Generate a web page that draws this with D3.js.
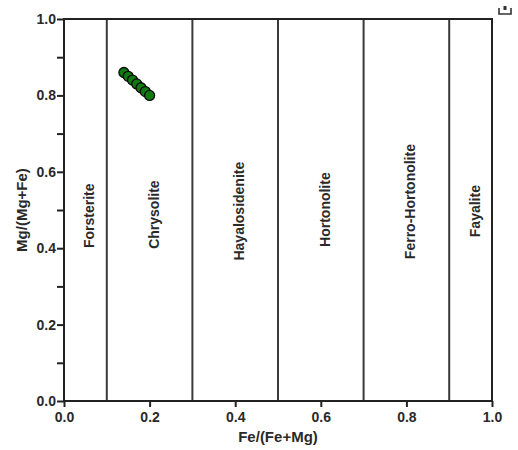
<!DOCTYPE html>
<html>
<head>
<meta charset="utf-8">
<script src="https://cdn.jsdelivr.net/npm/d3@7"></script>
<style>
  html, body { margin: 0; padding: 0; background: #fff; }
  svg { display: block; }
  text { font-family: "Liberation Sans", Arial, sans-serif; font-weight: bold; fill: #2a2a2a; }
</style>
</head>
<body>
<svg id="chart" width="518" height="450"></svg>
<script>
// Olivine classification fields, bounded by Fe/(Fe+Mg)
const fieldBounds = [0.1, 0.3, 0.5, 0.7, 0.9];
const fieldNames = ["Forsterite", "Chrysolite", "Hayalosidenite", "Hortonolite", "Ferro-Hortonolite", "Fayalite"];
const fieldCenters = [0.05, 0.2, 0.4, 0.6, 0.8, 0.95];
const fieldLabelY = [0.485, 0.488, 0.497, 0.501, 0.522, 0.497];

// Sample compositions
const feRatio = [0.14, 0.15, 0.16, 0.17, 0.18, 0.19, 0.20];
const mgRatio = [0.86, 0.85, 0.84, 0.83, 0.82, 0.81, 0.80];

const xTicks = [0, 0.2, 0.4, 0.6, 0.8, 1.0];
const yTicks = [0, 0.1, 0.2, 0.3, 0.4, 0.5, 0.6, 0.7, 0.8, 0.9, 1.0];

const svg = d3.select("#chart");
const m = { left: 64, right: 492, top: 19, bottom: 401 };

const x = d3.scaleLinear().domain([0, 1]).range([m.left, m.right]);
const y = d3.scaleLinear().domain([0, 1]).range([m.bottom, m.top]);

// field boundaries
svg.append("g").selectAll("line").data(fieldBounds).join("line")
  .attr("x1", d => x(d)).attr("x2", d => x(d))
  .attr("y1", y(0)).attr("y2", y(1))
  .attr("stroke", "#3a3a3a").attr("stroke-width", 2);

// frame
svg.append("rect")
  .attr("x", x(0)).attr("y", y(1))
  .attr("width", x(1) - x(0)).attr("height", y(0) - y(1))
  .attr("fill", "none").attr("stroke", "#222").attr("stroke-width", 2);

const tickFont = sel => sel.style("font-size", "14px")
  .style("font-family", "Liberation Sans, Arial, sans-serif")
  .style("font-weight", "bold").attr("fill", "#2a2a2a");

// x axis
const xAxis = svg.append("g").attr("transform", `translate(0,${y(0)})`)
  .call(d3.axisBottom(x).tickValues(xTicks).tickFormat(d3.format(".1f")).tickSize(6).tickPadding(5));
xAxis.select(".domain").remove();
xAxis.selectAll(".tick line").attr("stroke", "#222").attr("stroke-width", 2);
xAxis.selectAll(".tick text").call(tickFont);

// y axis
const yAxis = svg.append("g").attr("transform", `translate(${x(0)},0)`)
  .call(d3.axisLeft(y).tickValues(yTicks)
    .tickFormat(d => (Math.round(d * 10) % 2 === 0) ? d3.format(".1f")(d) : "")
    .tickSize(7).tickPadding(1));
yAxis.select(".domain").remove();
yAxis.selectAll(".tick line").attr("stroke", "#222").attr("stroke-width", 2);
yAxis.selectAll(".tick text").call(tickFont);

// field names
svg.append("g").selectAll("text").data(fieldNames).join("text")
  .attr("transform", (d, i) => `translate(${x(fieldCenters[i]) + 9},${y(fieldLabelY[i])}) rotate(-90)`)
  .attr("text-anchor", "middle")
  .style("font-size", "14px")
  .text(d => d);

// sample points
svg.append("g").selectAll("circle").data(feRatio).join("circle")
  .attr("cx", (d, i) => x(d))
  .attr("cy", (d, i) => y(mgRatio[i]))
  .attr("r", 5)
  .attr("fill", "#0e7a10")
  .attr("stroke", "#0a0a0a")
  .attr("stroke-width", 1.3);

// axis titles
svg.append("text")
  .attr("x", x(0.5)).attr("y", 442)
  .attr("text-anchor", "middle")
  .style("font-size", "15px")
  .text("Fe/(Fe+Mg)");

svg.append("text")
  .attr("transform", `translate(27,${y(0.5)}) rotate(-90)`)
  .attr("text-anchor", "middle")
  .style("font-size", "15px")
  .text("Mg/(Mg+Fe)");

// small corner mark
svg.append("path")
  .attr("d", "M499,8 L499,14 L511,14 L511,8")
  .attr("fill", "none").attr("stroke", "#333").attr("stroke-width", 1.6);
svg.append("rect")
  .attr("x", 503.5).attr("y", 6).attr("width", 3).attr("height", 4)
  .attr("fill", "#333");
</script>
</body>
</html>
